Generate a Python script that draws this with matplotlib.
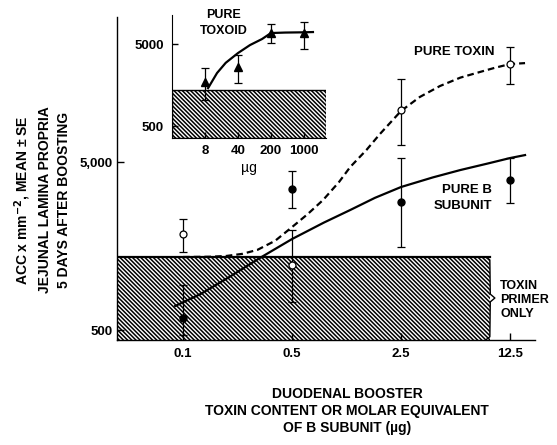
import matplotlib.pyplot as plt
from matplotlib.patches import Rectangle

plt.rcParams['font.family'] = ['Liberation Sans', 'DejaVu Sans']
plt.rcParams['font.weight'] = 'bold'
plt.rcParams['hatch.linewidth'] = 1.1

# main panel: duodenal booster dose (ug)
dose = [0.1, 0.5, 2.5, 12.5]
dose_labels = ["0.1", "0.5", "2.5", "12.5"]

toxin_mean = [1860, 1220, 10200, 19150]
toxin_lo = [1455, 735, 6310, 14550]
toxin_hi = [2290, 1970, 15600, 24200]

bsub_mean = [590, 3450, 2890, 3910]
bsub_lo = [468, 2660, 1560, 2850]
bsub_hi = [927, 4420, 5280, 5280]

# hand drawn curves
toxin_curve_x = [0.1, 0.15, 0.19, 0.24, 0.3, 0.39, 0.5, 0.63, 0.79, 1.0, 1.18, 1.5, 1.83, 2.5, 3.3, 4.44, 6.0, 8.0, 10.0, 12.5, 15.6]
toxin_curve_y = [1360, 1365, 1380, 1420, 1500, 1700, 2050, 2450, 2970, 3800, 4670, 5900, 7340, 10070, 12200, 14170, 15900, 17170, 18200, 19150, 19400]
bsub_curve_x = [0.089, 0.13, 0.2, 0.31, 0.5, 0.8, 1.18, 1.7, 2.5, 4.0, 6.0, 9.0, 12.5, 15.6]
bsub_curve_y = [695, 820, 1040, 1340, 1740, 2180, 2590, 3060, 3550, 4050, 4480, 4900, 5280, 5500]

primer_only_top = 1360

# inset: pure toxoid (ug)
toxoid_dose = [8, 40, 200, 1000]
toxoid_mean = [1720, 2620, 6800, 6800]
toxoid_lo = [1040, 1670, 5150, 4350]
toxoid_hi = [2550, 3680, 8760, 9300]
toxoid_curve_x = [9.3, 14.4, 22, 40, 72, 129, 200, 400, 1000, 1550]
toxoid_curve_y = [1450, 2215, 2950, 3880, 4860, 5750, 6810, 6900, 6950, 7000]
toxoid_primer_top = 1370

HATCH = '\\' * 8

W, H = 557, 445
fig = plt.figure(figsize=(W / 100, H / 100), dpi=100)

def box(l, t, r, b):
    return [l / W, 1 - b / H, (r - l) / W, (b - t) / H]

ax = fig.add_axes(box(117, 17, 535, 340))
ax.set_xscale('log')
ax.set_yscale('log')
ax.set_xlim(0.0377, 18.07)
ax.set_ylim(436, 36500)
for s in ['top', 'right']:
    ax.spines[s].set_visible(False)
for s in ['left', 'bottom']:
    ax.spines[s].set_linewidth(1.0)

ax.add_patch(Rectangle((0.0377, 436), 9.3 - 0.0377, primer_only_top - 436,
                       facecolor='white', edgecolor='black', hatch=HATCH,
                       linewidth=0, zorder=1))
ax.plot([0.0377, 9.3], [primer_only_top, primer_only_top], color='black', lw=1.6, zorder=2)
# brace on the right of the band
ax.plot([0.882, 0.892, 0.893, 0.904, 0.893, 0.892, 0.882],
        [0.257, 0.248, 0.142, 0.130, 0.118, 0.010, 0.0],
        transform=ax.transAxes, color='black', lw=1.0, zorder=2, clip_on=False)

ax.plot(toxin_curve_x, toxin_curve_y, color='black', lw=1.6, ls=(0, (3, 1.8)), zorder=3)
ax.plot(bsub_curve_x, bsub_curve_y, color='black', lw=1.6, zorder=3)

ax.errorbar(dose, toxin_mean,
            yerr=[[m - l for m, l in zip(toxin_mean, toxin_lo)],
                  [h - m for m, h in zip(toxin_mean, toxin_hi)]],
            fmt='o', mfc='white', mec='black', mew=0.9, ms=5, color='black',
            elinewidth=0.9, capsize=3, capthick=0.9, zorder=4)
ax.errorbar(dose, bsub_mean,
            yerr=[[m - l for m, l in zip(bsub_mean, bsub_lo)],
                  [h - m for m, h in zip(bsub_mean, bsub_hi)]],
            fmt='o', mfc='black', mec='black', ms=5, color='black',
            elinewidth=0.9, capsize=3, capthick=0.9, zorder=4)

ax.set_xticks(dose)
ax.set_xticklabels(dose_labels)
ax.set_yticks([500, 5000])
ax.set_yticklabels(["500", "5,000"])
ax.minorticks_off()
ax.tick_params(direction='in', length=5, width=1.0, labelsize=9.5)
ax.tick_params(axis='x', pad=6)
ax.tick_params(axis='y', pad=3)

ax.text(5.5, 22600, "PURE TOXIN", fontsize=9.5, ha='center', va='center')
ax.text(9.6, 3050, "PURE B\nSUBUNIT", fontsize=9.5, ha='right', va='center',
        multialignment='right', linespacing=1.4)
ax.text(10.8, 755, "TOXIN\nPRIMER\nONLY", fontsize=9, ha='left', va='center',
        multialignment='left', linespacing=1.2)

fig.text(42 / W, 1 - 200 / H,
         "ACC x mm$^{-2}$, MEAN ± SE\nJEJUNAL LAMINA PROPRIA\n5 DAYS AFTER BOOSTING",
         rotation=90, ha='center', va='center', multialignment='center',
         fontsize=10, linespacing=1.45)
fig.text(347 / W, 1 - 411 / H,
         "DUODENAL BOOSTER\nTOXIN CONTENT OR MOLAR EQUIVALENT\nOF B SUBUNIT (µg)",
         ha='center', va='center', multialignment='center', fontsize=10,
         linespacing=1.3)

# inset
ins = fig.add_axes(box(172, 15, 326, 138))
ins.patch.set_alpha(0)
ins.set_xscale('log')
ins.set_yscale('log')
ins.set_xlim(1.6, 2930)
ins.set_ylim(357, 11300)
for s in ['top', 'right']:
    ins.spines[s].set_visible(False)
ins.add_patch(Rectangle((1.6, 357), 2930 - 1.6, toxoid_primer_top - 357,
                        facecolor='white', edgecolor='black', hatch=HATCH,
                        linewidth=1.0, zorder=1))
ins.plot(toxoid_curve_x, toxoid_curve_y, color='black', lw=1.6, zorder=3)
ins.errorbar(toxoid_dose, toxoid_mean,
             yerr=[[m - l for m, l in zip(toxoid_mean, toxoid_lo)],
                   [h - m for m, h in zip(toxoid_mean, toxoid_hi)]],
             fmt='^', mfc='black', mec='black', ms=6, color='black',
             elinewidth=0.9, capsize=3, capthick=0.9, zorder=4)
ins.set_xticks(toxoid_dose)
ins.set_xticklabels(["8", "40", "200", "1000"])
ins.set_yticks([500, 5000])
ins.set_yticklabels(["500", "5000"])
ins.minorticks_off()
ins.tick_params(direction='in', length=4, width=1.0, labelsize=9.5)
ins.tick_params(axis='y', pad=6)
ins.tick_params(axis='x', pad=5)
ins.set_xlabel("µg", fontsize=10, labelpad=3)
ins.text(20, 9020, "PURE\nTOXOID", fontsize=9, ha='center', va='center',
         linespacing=1.4)

fig.savefig("out.png", dpi=100)
